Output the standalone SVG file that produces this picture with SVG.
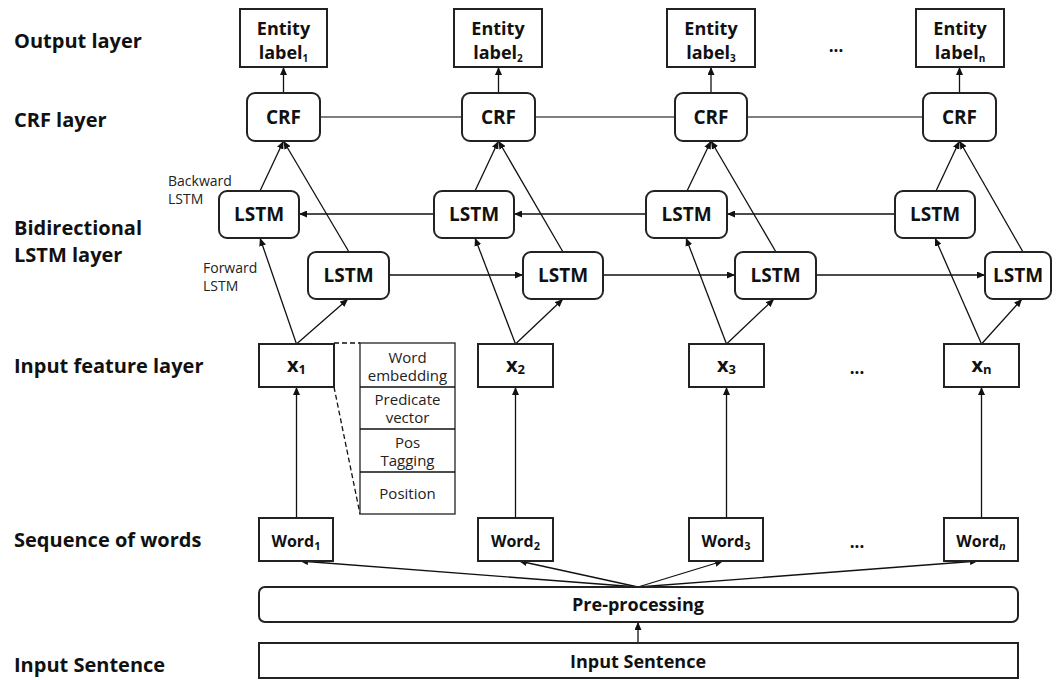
<svg xmlns="http://www.w3.org/2000/svg" width="1056" height="680" viewBox="0 0 1056 680">
<defs>
<marker id="ah" markerUnits="userSpaceOnUse" markerWidth="8" markerHeight="7" refX="8" refY="3.5" orient="auto">
<path d="M0,0 L8,3.5 L0,7 z" fill="#111"/>
</marker>
<style>
.lbl{font-family:"Open Sans","Noto Sans",sans-serif;font-weight:bold;font-size:20px;fill:#111}
.bx{fill:#fff;stroke:#222;stroke-width:2}
.rb{fill:#fff;stroke:#222;stroke-width:2}
.t{font-family:"Open Sans","Noto Sans",sans-serif;font-weight:bold;fill:#111;text-anchor:middle}
.r{font-family:"Open Sans","Noto Sans",sans-serif;font-weight:normal;fill:#222}
.ln{stroke:#111;stroke-width:1.3;fill:none}
.ar{stroke:#111;stroke-width:1.3;fill:none;marker-end:url(#ah)}
.hl{stroke:#555;stroke-width:1.6;fill:none}
.ds{stroke:#111;stroke-width:1.3;fill:none;stroke-dasharray:5,3}
</style>
</defs>
<rect width="1056" height="680" fill="#fff"/>

<g id="layer-labels">
<text class="lbl" x="14" y="48">Output layer</text>
<text class="lbl" x="14" y="127">CRF layer</text>
<text class="lbl" x="14" y="235">Bidirectional</text>
<text class="lbl" x="14" y="262">LSTM layer</text>
<text class="lbl" x="14" y="373">Input feature layer</text>
<text class="lbl" x="14" y="547">Sequence of words</text>
<text class="lbl" x="14" y="672">Input Sentence</text>
<text class="r" x="168" y="186" font-size="14">Backward</text>
<text class="r" x="168" y="204" font-size="14">LSTM</text>
<text class="r" x="203" y="273" font-size="14">Forward</text>
<text class="r" x="203" y="291" font-size="14">LSTM</text>
<text class="t" x="836" y="52" font-size="17">...</text>
<text class="t" x="857" y="374" font-size="17">...</text>
<text class="t" x="857" y="548" font-size="17">...</text>
</g>

<g id="connectors">
<line class="ar" x1="283.5" y1="93" x2="283.5" y2="67"/>
<line class="ar" x1="498.5" y1="93" x2="498.5" y2="67"/>
<line class="ar" x1="711" y1="93" x2="711" y2="67"/>
<line class="ar" x1="959.5" y1="93" x2="959.5" y2="67"/>
<line class="hl" x1="320" y1="117" x2="462" y2="117"/>
<line class="hl" x1="535" y1="117" x2="675" y2="117"/>
<line class="hl" x1="747" y1="117" x2="923" y2="117"/>
<line class="ar" x1="260" y1="191" x2="283.5" y2="141"/>
<line class="ar" x1="349" y1="252" x2="283.5" y2="141"/>
<line class="ar" x1="475" y1="191" x2="498.5" y2="141"/>
<line class="ar" x1="563" y1="252" x2="498.5" y2="141"/>
<line class="ar" x1="687" y1="191" x2="711" y2="141"/>
<line class="ar" x1="776" y1="252" x2="711" y2="141"/>
<line class="ar" x1="936" y1="191" x2="959.5" y2="141"/>
<line class="ar" x1="1023" y1="252" x2="959.5" y2="141"/>
<line class="ar" x1="434" y1="214" x2="299" y2="214"/>
<line class="ar" x1="646" y1="214" x2="514" y2="214"/>
<line class="ar" x1="895" y1="214" x2="727" y2="214"/>
<line class="ar" x1="389" y1="275" x2="523" y2="275"/>
<line class="ar" x1="603" y1="275" x2="735" y2="275"/>
<line class="ar" x1="816" y1="275" x2="985" y2="275"/>
<line class="ar" x1="296.5" y1="344" x2="260" y2="238"/>
<line class="ar" x1="296.5" y1="344" x2="348" y2="299"/>
<line class="ar" x1="515.5" y1="344" x2="475" y2="238"/>
<line class="ar" x1="515.5" y1="344" x2="563" y2="299"/>
<line class="ar" x1="726.5" y1="344" x2="686" y2="238"/>
<line class="ar" x1="726.5" y1="344" x2="774" y2="299"/>
<line class="ar" x1="981.5" y1="344" x2="935" y2="238"/>
<line class="ar" x1="981.5" y1="344" x2="1022" y2="299"/>
<line class="ar" x1="296.5" y1="518" x2="296.5" y2="387"/>
<line class="ar" x1="515.5" y1="518" x2="515.5" y2="387"/>
<line class="ar" x1="726.5" y1="518" x2="726.5" y2="387"/>
<line class="ar" x1="981.5" y1="518" x2="981.5" y2="387"/>
<line class="ar" x1="638" y1="587" x2="300" y2="561"/>
<line class="ar" x1="638" y1="587" x2="519" y2="561"/>
<line class="ar" x1="638" y1="587" x2="723" y2="561"/>
<line class="ar" x1="638" y1="587" x2="978" y2="561"/>
<line class="ar" x1="638" y1="643" x2="638" y2="622"/>
<line class="ds" x1="334" y1="343" x2="360" y2="343"/>
<line class="ds" x1="334" y1="387" x2="360" y2="514"/>
</g>

<g id="entity1"><rect class="bx" x="240" y="9" width="87" height="58"/>
<text class="t" x="283.5" y="35" font-size="18">Entity</text>
<text class="t" x="283.5" y="59" font-size="18">label<tspan font-size="10" dy="3">1</tspan></text></g>
<g id="entity2"><rect class="bx" x="454" y="9" width="88" height="58"/>
<text class="t" x="498" y="35" font-size="18">Entity</text>
<text class="t" x="498" y="59" font-size="18">label<tspan font-size="10" dy="3">2</tspan></text></g>
<g id="entity3"><rect class="bx" x="667" y="9" width="88" height="58"/>
<text class="t" x="711" y="35" font-size="18">Entity</text>
<text class="t" x="711" y="59" font-size="18">label<tspan font-size="10" dy="3">3</tspan></text></g>
<g id="entityn"><rect class="bx" x="916" y="9" width="88" height="58"/>
<text class="t" x="960" y="35" font-size="18">Entity</text>
<text class="t" x="960" y="59" font-size="18">label<tspan font-size="10" dy="3">n</tspan></text></g>

<g id="crf1"><rect class="rb" x="247" y="93" width="73" height="48" rx="8"/><text class="t" x="283.5" y="124" font-size="19">CRF</text></g>
<g id="crf2"><rect class="rb" x="462" y="93" width="73" height="48" rx="8"/><text class="t" x="498.5" y="124" font-size="19">CRF</text></g>
<g id="crf3"><rect class="rb" x="675" y="93" width="72" height="48" rx="8"/><text class="t" x="711" y="124" font-size="19">CRF</text></g>
<g id="crfn"><rect class="rb" x="923" y="93" width="73" height="48" rx="8"/><text class="t" x="959.5" y="124" font-size="19">CRF</text></g>

<g id="blstm1"><rect class="rb" x="219" y="191" width="80" height="47" rx="8"/><text class="t" x="259" y="221" font-size="19">LSTM</text></g>
<g id="blstm2"><rect class="rb" x="434" y="191" width="80" height="47" rx="8"/><text class="t" x="474" y="221" font-size="19">LSTM</text></g>
<g id="blstm3"><rect class="rb" x="646" y="191" width="81" height="47" rx="8"/><text class="t" x="686.5" y="221" font-size="19">LSTM</text></g>
<g id="blstmn"><rect class="rb" x="895" y="191" width="80" height="47" rx="8"/><text class="t" x="935" y="221" font-size="19">LSTM</text></g>

<g id="flstm1"><rect class="rb" x="308" y="252" width="81" height="47" rx="8"/><text class="t" x="348.5" y="282" font-size="19">LSTM</text></g>
<g id="flstm2"><rect class="rb" x="523" y="252" width="80" height="47" rx="8"/><text class="t" x="563" y="282" font-size="19">LSTM</text></g>
<g id="flstm3"><rect class="rb" x="735" y="252" width="81" height="47" rx="8"/><text class="t" x="775.5" y="282" font-size="19">LSTM</text></g>
<g id="flstmn"><rect class="rb" x="985" y="252" width="66" height="47" rx="8"/><text class="t" x="1018" y="282" font-size="19">LSTM</text></g>

<g id="x1"><rect class="bx" x="259" y="344" width="75" height="43"/><text class="t" x="296.5" y="372" font-size="20">x<tspan font-size="13" dy="2">1</tspan></text></g>
<g id="x2"><rect class="bx" x="478" y="344" width="75" height="43"/><text class="t" x="515.5" y="372" font-size="20">x<tspan font-size="13" dy="2">2</tspan></text></g>
<g id="x3"><rect class="bx" x="689" y="344" width="75" height="43"/><text class="t" x="726.5" y="372" font-size="20">x<tspan font-size="13" dy="2">3</tspan></text></g>
<g id="xn"><rect class="bx" x="944" y="344" width="75" height="43"/><text class="t" x="981.5" y="372" font-size="20">x<tspan font-size="13" dy="2">n</tspan></text></g>

<g id="features">
<rect x="360" y="343" width="95" height="171" fill="#fff" stroke="#222" stroke-width="1.3"/>
<line class="ln" x1="360" y1="387" x2="455" y2="387"/>
<line class="ln" x1="360" y1="429" x2="455" y2="429"/>
<line class="ln" x1="360" y1="472" x2="455" y2="472"/>
<g class="r" font-size="15" text-anchor="middle">
<text x="407.5" y="363">Word</text>
<text x="407.5" y="381">embedding</text>
<text x="407.5" y="405">Predicate</text>
<text x="407.5" y="423">vector</text>
<text x="407.5" y="448">Pos</text>
<text x="407.5" y="466">Tagging</text>
<text x="407.5" y="499">Position</text>
</g>
</g>

<g id="word1"><rect class="bx" x="259" y="518" width="74" height="43"/><text class="t" x="296" y="547" font-size="16">Word<tspan font-size="11" dy="3">1</tspan></text></g>
<g id="word2"><rect class="bx" x="478" y="518" width="75" height="43"/><text class="t" x="515.5" y="547" font-size="16">Word<tspan font-size="11" dy="3">2</tspan></text></g>
<g id="word3"><rect class="bx" x="689" y="518" width="74" height="43"/><text class="t" x="726" y="547" font-size="16">Word<tspan font-size="11" dy="3">3</tspan></text></g>
<g id="wordn"><rect class="bx" x="944" y="518" width="74" height="43"/><text class="t" x="981" y="547" font-size="16">Word<tspan font-size="11" dy="3" font-style="italic">n</tspan></text></g>

<g id="preprocessing"><rect class="rb" x="259" y="587" width="759" height="35" rx="6"/><text class="t" x="638" y="611" font-size="18">Pre-processing</text></g>
<g id="input-sentence"><rect class="bx" x="259" y="643" width="759" height="35"/><text class="t" x="638" y="668" font-size="18">Input Sentence</text></g>
</svg>
